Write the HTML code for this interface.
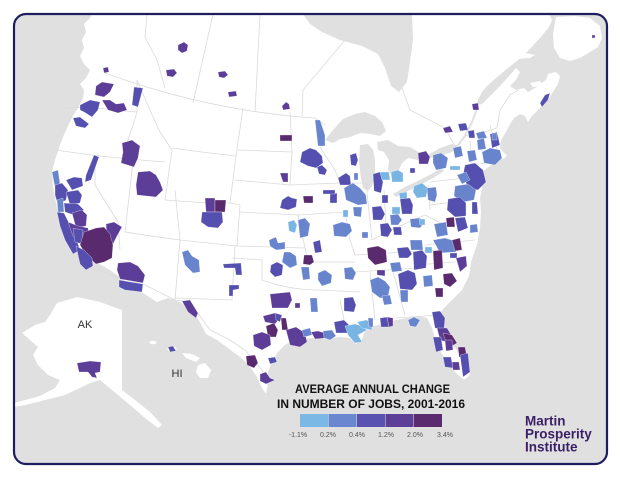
<!DOCTYPE html>
<html><head><meta charset="utf-8"><style>
html,body{margin:0;padding:0;background:#fff;}
svg{display:block;}
.A{fill:#79b5e3}.B{fill:#6884cd}.C{fill:#5550af}.D{fill:#5c3d97}.E{fill:#5a2a6e}
.bl polygon{stroke:#fff;stroke-width:0.3}
.st{fill:none;stroke:#dadada;stroke-width:0.8}
</style></head><body>
<svg width="620" height="479" viewBox="0 0 620 479" xmlns="http://www.w3.org/2000/svg">
<defs><clipPath id="cp"><rect x="14" y="14" width="593" height="450" rx="12"/></clipPath></defs>
<rect width="620" height="479" fill="#fff"/>
<g clip-path="url(#cp)">
<rect x="14" y="14" width="593" height="450" fill="#e0e0e0"/>
<!-- mainland -->
<path fill="#fff" d="M92,14 L549,14 L552,20 L549,27 L540,38 L528,51 L518,60 L508,68 L496,78 L487,86 L482,92 L478,100 L476,106 L482,104 L490,96 L500,86 L510,75 L516,68 L520,72 L516,80 L510,86 L516,90 L524,88 L528,92 L535,88 L540,84 L546,80 L548,74 L556,72 L560,76 L558,84 L553,92 L548,100 L540,108 L532,116 L528,122 L525,116 L520,114 L514,118 L510,124 L506,132 L501,140 L500,148 L503,152 L507,155 L505,158 L498,160 L490,166 L483,171 L480,178 L482,188 L480,198 L481,212 L480,228 L477,245 L471,262 L469,276 L462,290 L452,300 L444,308 L438,316 L442,330 L452,344 L461,356 L468,366 L470,375 L464,380 L456,373 L449,364 L442,354 L436,342 L432,328 L427,318 L418,316 L408,318 L396,320 L382,324 L370,327 L364,333 L362,340 L356,344 L350,338 L340,337 L326,339 L312,338 L298,340 L286,344 L278,352 L272,362 L268,372 L268,384 L266,394 L262,388 L257,377 L248,364 L240,357 L228,348 L217,340 L206,334 L201,324 L196,316 L188,308 L180,302 L168,298 L157,302 L143,293 L125,281 L110,270 L103,266 L92,260 L83,254 L76,247 L69,238 L63,226 L58,212 L55,198 L53,186 L52,172 L55,160 L59,148 L63,137 L68,126 L73,116 L78,108 L83,98 L84,90 L80,84 L86,78 L90,70 L84,64 L80,56 L84,48 L82,40 L86,32 L84,24 L90,18 Z"/>
<!-- islands -->
<path fill="#fff" d="M556,17 L575,16 L590,18 L600,26 L602,38 L598,47 L590,52 L580,58 L570,61 L560,58 L554,48 L553,34 Z"/>
<path fill="#fff" d="M508,55 L520,52 L535,55 L530,58 L515,59 Z"/>
<path fill="#fff" d="M530,83 L540,81 L543,85 L533,87 Z"/>
<!-- Hudson Bay -->
<path fill="#e0e0e0" d="M303,14 L310,24 L322,32 L340,40 L362,46 L378,54 L385,68 L391,86 L399,92 L407,82 L410,62 L413,40 L412,14 Z"/>
<!-- Great Lakes -->
<path fill="#e0e0e0" d="M325,140 L333,130 L343,119 L355,114 L365,112 L375,116 L382,122 L386,131 L380,136 L370,134 L360,133 L350,137 L340,139 L333,143 Z"/>
<path fill="#e0e0e0" d="M360,145 L368,144 L373,150 L375,160 L375,175 L372,186 L368,191 L363,188 L361,178 L359,162 Z"/>
<path fill="#e0e0e0" d="M377,142 L388,140 L398,146 L410,147 L420,153 L418,160 L408,158 L402,163 L398,172 L392,176 L388,170 L389,160 L384,152 L378,150 Z"/>
<path fill="#e0e0e0" d="M393,194 L405,187 L420,180 L433,173 L441,168 L444,171 L433,178 L420,185 L406,192 L396,197 Z"/>
<path fill="#e0e0e0" d="M428,155 L440,148 L452,144 L458,146 L452,152 L440,156 L430,158 Z"/>
<path d="M456,148 L465,136 L472,122 L478,106" fill="none" stroke="#e0e0e0" stroke-width="2"/>
<!-- Alaska -->
<path fill="#fff" d="M57,303 L77,297 L100,302 L122,310 L122,390 L135,400 L150,412 L162,425 L158,428 L145,418 L130,405 L118,395 L100,380 L90,383 L80,388 L65,395 L45,400 L25,405 L14,407 L14,403 L40,396 L55,388 L60,380 L48,375 L38,365 L33,355 L38,347 L30,340 L22,333 L35,325 L45,322 L50,315 Z"/>
<!-- Hawaii -->
<ellipse cx="153" cy="342.5" rx="3.5" ry="1.8" fill="#fff"/>
<ellipse cx="172" cy="349" rx="4.5" ry="3" fill="#fff"/>
<path fill="#fff" d="M182,353 L192,354 L200,358 L196,362 L186,358 Z"/>
<path fill="#fff" d="M198,365 L205,363 L211,370 L208,378 L200,378 L196,372 Z"/>
<!-- borders -->
<g class="st">
<path d="M105,73 Q200,108 300,117 L315,118 L325,125"/>
<path d="M147,14 L145,37 L157,60 L165,88"/>
<path d="M213,14 L193,103"/>
<path d="M260,14 L255,112"/>
<path d="M345,40 L303,90 L302,117"/>
<path d="M402,88 L410,110 L445,128 L456,148"/>
<path d="M465,136 L485,132 L497,128 L500,110 L510,95 L518,90"/>
<path d="M66,108 C90,106 110,110 137,112"/>
<path d="M137,80 L137,112 L133,125 L128,140 L130,158"/>
<path d="M56,150 Q100,157 165,162"/>
<path d="M95,158 L95,185 L118,222 L120,250"/>
<path d="M133,162 L125,232"/>
<path d="M137,80 L150,110 L160,132 L172,150 L165,200"/>
<path d="M172,148 Q200,152 236,156"/>
<path d="M243,108 L236,156 L230,203"/>
<path d="M165,200 Q200,203 230,203 L240,205"/>
<path d="M125,232 Q150,236 180,240 L237,246 L305,248"/>
<path d="M175,190 L180,240 L175,300"/>
<path d="M240,205 L237,246"/>
<path d="M240,212 L298,215 L345,212"/>
<path d="M235,246 L232,300 L175,298"/>
<path d="M232,258 L262,260 L262,280 Q290,290 318,290 L360,292"/>
<path d="M298,215 L305,248 L308,262 L355,262"/>
<path d="M238,150 L292,152"/><path d="M235,180 L290,185"/>
<path d="M290,112 L292,152 L290,185 L340,183 L366,183"/>
<path d="M320,147 L325,155 L335,170 L340,183"/>
<path d="M366,183 L372,240"/>
<path d="M345,212 L350,240 L355,255 L440,250"/>
<path d="M384,190 L386,225"/>
<path d="M428,185 L430,210"/><path d="M430,182 L465,178"/>
<path d="M355,272 L418,268"/>
<path d="M370,272 L375,320"/><path d="M392,268 L405,315"/>
<path d="M395,318 L440,315"/>
<path d="M415,265 L455,262"/><path d="M425,245 L475,240"/>
<path d="M372,240 Q400,225 425,215 L445,225"/>
<path d="M430,205 L470,200"/>
<path d="M470,140 L472,165"/><path d="M480,135 L482,152"/><path d="M490,125 L497,150"/><path d="M470,165 L495,162"/>
<path d="M340,300 L345,325"/>
<path d="M90,268 L145,285 L175,300 L190,302"/>
<path d="M190,302 L210,330 L230,340 L245,350 L262,370 L268,385"/>
</g>
<!-- metro blobs -->
<g class="bl">
<polygon class="D" points="178,45 184,42 188,45 187,51 182,53 178,50"/>
<polygon class="D" points="166,70 174,69 177,73 173,77 167,76"/>
<polygon class="D" points="218,72 225,71 228,75 224,78 219,77"/>
<polygon class="D" points="228,92 236,91 237,96 229,97"/>
<polygon class="D" points="282,106 286,102 289,104 290,109 283,110"/>
<polygon class="D" points="103,68 108,67 109,72 104,73"/>
<polygon class="D" points="96,86 102,82 114,84 110,92 104,97 95,95"/>
<polygon class="C" points="134,87 143,88 138,107 132,105"/>
<polygon class="C" points="80,105 90,100 100,102 98,110 92,117 84,112 80,110"/>
<polygon class="D" points="102,100 110,100 116,104 124,103 127,110 118,113 108,110"/>
<polygon class="C" points="73,118 80,117 89,124 85,128 76,126"/>
<polygon class="D" points="122,143 132,140 140,146 138,158 134,167 121,163 123,152"/>
<polygon class="C" points="94,155 99,157 91,180 85,182 86,175"/>
<polygon class="D" points="138,172 150,171 156,175 160,182 163,190 156,197 137,195 136,185"/>
<polygon class="D" points="205,198 215,198 215,212 206,212"/>
<polygon class="E" points="215,200 226,200 225,212 215,212"/>
<polygon class="C" points="202,212 222,212 223,222 218,228 208,227 201,222"/>
<polygon class="D" points="280,173 288,173 288,182 283,182"/>
<polygon class="E" points="280,135 292,135 292,141 280,141"/>
<polygon class="B" points="315,120 320,120 325,135 325,146 318,146"/>
<polygon class="C" points="302,152 310,148 316,150 322,156 323,163 316,168 308,166 300,162"/>
<polygon class="C" points="317,167 322,165 327,170 325,175 319,174"/>
<polygon class="C" points="282,200 288,196 292,198 297,199 296,207 288,210 280,208"/>
<polygon class="E" points="303,196 313,196 313,203 304,203"/>
<polygon class="C" points="338,178 346,173 350,176 351,185 340,185"/>
<polygon class="C" points="350,155 356,153 358,160 356,166 351,165"/>
<polygon class="B" points="354,173 358,173 358,180 354,180"/>
<polygon class="B" points="344,188 353,183 360,188 366,195 367,204 358,205 346,200"/>
<polygon class="C" points="330,194 337,193 337,203 330,203"/>
<polygon class="C" points="323,190 335,190 335,194 323,194"/>
<polygon class="A" points="343,210 348,210 348,217 343,217"/>
<polygon class="B" points="353,207 362,207 361,217 354,216"/>
<polygon class="C" points="373,174 380,172 383,182 381,193 374,191"/>
<polygon class="A" points="380,172 389,172 390,180 382,180"/>
<polygon class="C" points="382,195 388,195 388,203 382,203"/>
<polygon class="A" points="288,222 294,220 297,225 295,233 289,231"/>
<polygon class="B" points="298,220 305,218 310,224 308,236 300,238"/>
<polygon class="B" points="333,225 342,222 350,224 352,231 346,237 334,236"/>
<polygon class="B" points="269,240 276,237 278,243 285,242 285,249 276,250 270,246"/>
<polygon class="C" points="313,242 320,240 322,252 315,253"/>
<polygon class="B" points="362,232 368,232 368,238 362,238"/>
<polygon class="B" points="284,252 290,252 296,256 297,265 290,268 282,262"/>
<polygon class="C" points="271,265 277,262 283,265 282,275 275,277 270,272"/>
<polygon class="E" points="304,255 312,255 314,262 310,265 303,264"/>
<polygon class="B" points="301,267 309,267 310,279 303,280"/>
<polygon class="B" points="318,273 325,270 332,275 331,283 322,286 318,280"/>
<polygon class="B" points="344,268 352,267 356,273 353,280 345,279"/>
<polygon class="B" points="182,252 188,250 192,256 199,260 200,272 193,273 185,265"/>
<polygon class="C" points="223,264 241,263 242,275 236,275 235,268 224,268"/>
<polygon class="C" points="229,285 239,285 239,289 233,290 233,296 229,296"/>
<polygon class="D" points="182,301 190,300 198,313 196,318 188,312"/>
<polygon class="D" points="106,224 114,222 122,227 117,236 113,244 107,240"/>
<polygon class="D" points="118,263 130,262 138,266 145,275 143,283 120,279 117,270"/>
<polygon class="C" points="119,280 143,284 142,292 125,290 119,287"/>
<polygon class="B" points="52,172 58,170 60,183 55,188"/>
<polygon class="C" points="66,180 74,177 82,178 83,186 72,190"/>
<polygon class="C" points="55,185 62,183 68,190 66,200 58,205 55,195"/>
<polygon class="C" points="66,192 78,190 82,195 80,203 70,205"/>
<polygon class="B" points="57,200 63,198 64,212 58,212"/>
<polygon class="C" points="64,203 78,204 84,210 74,215 65,212"/>
<polygon class="D" points="72,213 82,210 87,215 86,226 76,228"/>
<polygon class="C" points="57,212 64,213 70,225 76,238 80,250 73,254 65,240 60,226"/>
<polygon class="D" points="68,222 78,226 88,228 90,240 80,242 73,236"/>
<polygon class="C" points="73,228 83,230 82,244 75,242"/>
<polygon class="E" points="84,232 96,228 104,227 110,234 113,245 112,258 104,262 96,264 86,255 80,245"/>
<polygon class="C" points="76,246 84,250 92,258 93,266 86,270 80,264"/>
<polygon class="D" points="270,294 290,292 292,300 288,308 272,308"/>
<polygon class="D" points="295,303 300,303 300,308 295,308"/>
<polygon class="B" points="310,298 317,298 318,312 311,312"/>
<polygon class="D" points="263,316 275,313 280,318 275,324 265,322"/>
<polygon class="C" points="275,313 282,315 280,322 276,320"/>
<polygon class="E" points="266,326 274,323 278,330 276,337 268,337"/>
<polygon class="E" points="281,318 286,318 288,330 282,330"/>
<polygon class="D" points="253,335 262,332 270,335 271,345 262,350 254,346"/>
<polygon class="D" points="286,330 296,327 305,333 307,342 300,347 290,345"/>
<polygon class="B" points="302,330 310,328 312,335 304,337"/>
<polygon class="D" points="311,332 318,331 325,333 327,338 315,339"/>
<polygon class="B" points="323,331 332,330 336,336 330,340 324,338"/>
<polygon class="C" points="334,322 344,320 349,325 348,333 336,333"/>
<polygon class="A" points="345,326 355,324 362,326 367,330 358,335 362,342 355,343 348,335"/>
<polygon class="A" points="357,322 366,320 372,322 372,330 362,328"/>
<polygon class="B" points="368,318 373,318 373,327 369,327"/>
<polygon class="C" points="344,298 353,297 356,305 354,312 344,311"/>
<polygon class="C" points="380,318 387,317 389,327 381,327"/>
<polygon class="D" points="387,317 393,318 393,326 389,327"/>
<polygon class="B" points="408,320 414,317 420,320 416,327 410,326"/>
<polygon class="E" points="246,356 255,355 258,363 254,368 247,365"/>
<polygon class="C" points="268,358 275,357 277,362 270,364"/>
<polygon class="D" points="260,374 266,372 270,378 275,380 266,384 260,381"/>
<polygon class="E" points="367,248 378,246 386,250 387,262 375,265 368,258"/>
<polygon class="D" points="377,270 385,270 385,276 377,275"/>
<polygon class="B" points="370,280 378,277 385,281 390,287 388,297 380,298 372,292"/>
<polygon class="B" points="382,296 390,295 392,304 384,305"/>
<polygon class="C" points="398,274 408,270 415,273 417,284 412,290 400,289"/>
<polygon class="B" points="400,290 408,290 408,302 401,302"/>
<polygon class="B" points="423,276 432,275 433,286 424,287"/>
<polygon class="E" points="435,288 443,288 443,297 436,297"/>
<polygon class="B" points="390,263 400,262 402,271 392,272"/>
<polygon class="C" points="397,248 408,247 412,254 408,258 399,258"/>
<polygon class="C" points="413,252 422,250 427,256 426,268 414,270"/>
<polygon class="B" points="410,240 422,240 423,250 411,250"/>
<polygon class="A" points="425,247 432,247 432,253 425,253"/>
<polygon class="B" points="433,240 445,238 458,242 456,252 440,253"/>
<polygon class="E" points="452,240 460,238 462,250 455,251"/>
<polygon class="E" points="433,251 442,250 443,268 434,270"/>
<polygon class="C" points="450,253 457,253 457,258 450,258"/>
<polygon class="D" points="456,258 466,256 467,266 460,272"/>
<polygon class="E" points="443,274 452,273 457,281 450,287 444,284"/>
<polygon class="C" points="432,312 440,311 445,318 444,330 435,328"/>
<polygon class="D" points="437,328 447,328 453,338 450,343 440,340"/>
<polygon class="E" points="443,333 452,335 457,343 452,346 446,342"/>
<polygon class="C" points="433,337 441,337 443,350 436,352"/>
<polygon class="D" points="445,340 452,340 453,350 446,351"/>
<polygon class="C" points="443,357 451,357 453,368 445,367"/>
<polygon class="D" points="452,362 459,362 460,370 453,370"/>
<polygon class="E" points="458,347 465,347 467,357 459,357"/>
<polygon class="C" points="460,355 468,353 470,372 463,377"/>
<polygon class="C" points="372,207 381,206 385,214 382,220 373,220"/>
<polygon class="C" points="380,224 388,223 392,230 388,237 381,236"/>
<polygon class="C" points="393,227 401,227 402,235 394,235"/>
<polygon class="A" points="391,172 398,170 403,173 403,182 392,182"/>
<polygon class="A" points="399,193 407,192 407,199 400,199"/>
<polygon class="C" points="400,199 410,198 413,205 412,214 402,214"/>
<polygon class="B" points="390,215 398,214 402,220 398,225 391,225"/>
<polygon class="A" points="392,207 400,207 400,214 392,214"/>
<polygon class="A" points="414,186 422,183 428,188 426,197 417,198 413,192"/>
<polygon class="C" points="410,168 415,168 415,173 410,173"/>
<polygon class="D" points="418,153 426,151 430,157 428,164 419,164"/>
<polygon class="B" points="433,155 441,153 448,158 446,168 436,170 433,163"/>
<polygon class="B" points="427,188 436,187 437,195 435,202 428,200"/>
<polygon class="B" points="410,219 420,218 425,222 420,228 411,227"/>
<polygon class="A" points="419,219 425,219 425,225 420,225"/>
<polygon class="B" points="453,148 461,146 463,156 455,158"/>
<polygon class="A" points="450,166 460,166 460,170 450,170"/>
<polygon class="B" points="467,151 475,150 477,160 469,162"/>
<polygon class="B" points="477,140 484,138 486,149 478,150"/>
<polygon class="B" points="476,133 484,131 487,138 478,139"/>
<polygon class="B" points="482,152 490,148 500,150 502,158 495,165 484,163"/>
<polygon class="C" points="490,134 497,132 500,145 492,148"/>
<polygon class="C" points="465,165 475,163 483,170 486,182 478,190 468,188 463,175"/>
<polygon class="B" points="457,175 466,172 470,180 462,184"/>
<polygon class="B" points="455,186 468,184 476,190 474,200 463,202 454,196"/>
<polygon class="C" points="448,199 460,197 466,203 466,216 455,217 447,210"/>
<polygon class="C" points="472,202 477,202 478,214 472,214"/>
<polygon class="C" points="455,218 465,217 468,228 458,232"/>
<polygon class="E" points="446,218 454,217 455,227 447,227"/>
<polygon class="B" points="470,225 477,224 478,232 470,233"/>
<polygon class="B" points="434,224 446,222 448,235 437,237"/>
<polygon class="D" points="472,104 478,103 479,110 473,110"/>
<polygon class="D" points="443,128 450,126 453,132 445,133"/>
<polygon class="C" points="458,124 466,123 468,130 460,131"/>
<polygon class="C" points="468,131 474,130 475,138 469,138"/>
<polygon class="B" points="492,133 497,133 497,140 492,140"/>
<polygon class="C" points="540,103 545,95 550,93 548,100 542,107"/>
<polygon class="D" points="592,35 595,35 595,38 592,38"/>
<polygon class="C" points="168,347 173,346 176,351 170,352"/>
<polygon class="D" points="77,363 90,361 101,362 100,372 95,373 97,378 92,377 88,372 79,372"/>
</g>
<!-- labels -->
<text x="85" y="328" font-family="Liberation Sans, sans-serif" font-size="11" fill="#333" text-anchor="middle">AK</text>
<text x="177" y="377" font-family="Liberation Sans, sans-serif" font-size="11" fill="#333" text-anchor="middle">HI</text>
<!-- title -->
<text x="295" y="393" font-family="Liberation Sans, sans-serif" font-size="12" font-weight="bold" fill="#111" textLength="155" lengthAdjust="spacingAndGlyphs">AVERAGE ANNUAL CHANGE</text>
<text x="277" y="408" font-family="Liberation Sans, sans-serif" font-size="12" font-weight="bold" fill="#111" textLength="188" lengthAdjust="spacingAndGlyphs">IN NUMBER OF JOBS, 2001-2016</text>
<!-- legend -->
<rect x="300" y="414" width="28" height="13" fill="#7cb8e6"/>
<rect x="328.5" y="414" width="28" height="13" fill="#6b87d0"/>
<rect x="357" y="414" width="28" height="13" fill="#5a52b0"/>
<rect x="385.5" y="414" width="28" height="13" fill="#5e3f98"/>
<rect x="414" y="414" width="28" height="13" fill="#5b2b70"/>
<g font-family="Liberation Sans, sans-serif" font-size="7" fill="#555" text-anchor="middle">
<text x="298" y="437">-1.1%</text>
<text x="328" y="437">0.2%</text>
<text x="357" y="437">0.4%</text>
<text x="386" y="437">1.2%</text>
<text x="415" y="437">2.0%</text>
<text x="445" y="437">3.4%</text>
</g>
<!-- logo -->
<g font-family="Liberation Sans, sans-serif" font-size="13.5" font-weight="bold" fill="#3b1f66">
<text x="525" y="425.5">Martin</text>
<text x="525" y="438.5">Prosperity</text>
<text x="525" y="451.5">Institute</text>
</g>
</g>
<rect x="14" y="14" width="593" height="450" rx="12" fill="none" stroke="#1f1d62" stroke-width="2.2"/>
</svg>
</body></html>
